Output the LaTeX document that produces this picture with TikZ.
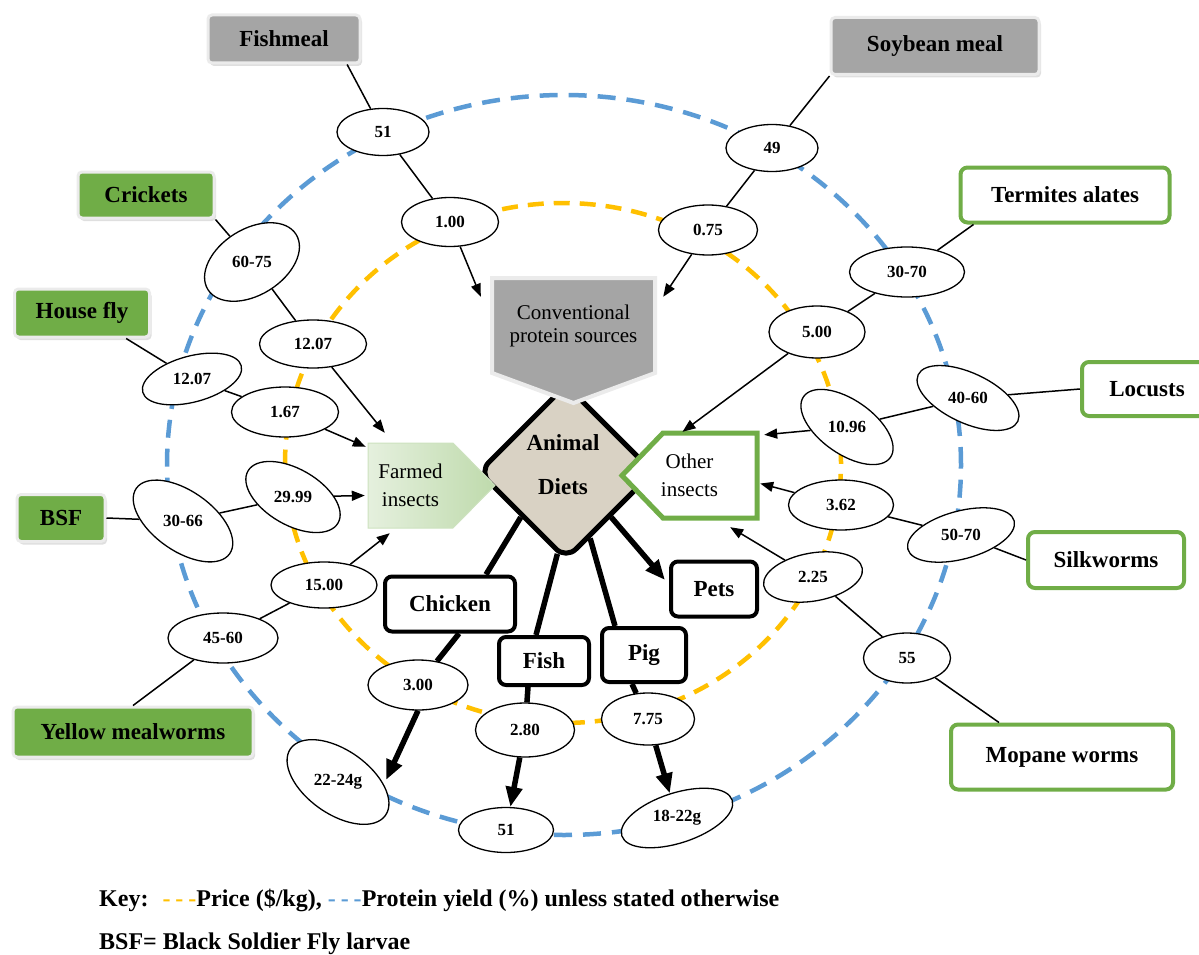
\documentclass[tikz,border=0pt]{standalone}
\usepackage{fontspec}
\setmainfont{Liberation Serif}
\usepackage{graphicx}
\usetikzlibrary{shapes.geometric,arrows.meta,shadows}

\definecolor{yieldblue}{RGB}{91,155,213}
\definecolor{priceorange}{RGB}{255,192,0}
\definecolor{insectgreen}{RGB}{112,173,71}
\definecolor{feedgray}{RGB}{165,165,165}
\definecolor{dietbeige}{RGB}{217,210,196}

\begin{document}
\begin{tikzpicture}[x=1pt,y=-1pt,
	lbl/.style={font=\fontsize{23}{25}\selectfont\bfseries},
	inner/.style={font=\fontsize{21}{23}\selectfont, align=center, inner sep=0pt},
	keytxt/.style={font=\fontsize{24}{26}\selectfont\bfseries, anchor=west, inner sep=0pt},
	feedbox/.style={lbl, rectangle, rounded corners=4pt, fill=feedgray, draw=black!8, line width=3pt, drop shadow={opacity=0.25, shadow xshift=2pt, shadow yshift=-3pt}},
	farmbox/.style={lbl, rectangle, rounded corners=4pt, fill=insectgreen, draw=black!8, line width=3pt, drop shadow={opacity=0.25, shadow xshift=2pt, shadow yshift=-3pt}},
	wildbox/.style={lbl, rectangle, rounded corners=7pt, fill=white, draw=insectgreen, line width=4pt},
	dietbox/.style={lbl, rectangle, rounded corners=7pt, fill=white, draw=black, line width=4pt},
	ovl/.style={ellipse, draw, fill=white, line width=1.3pt, inner sep=0pt, font=\fontsize{17}{17}\selectfont\bfseries},
	link/.style={line width=1.5pt},
	feed/.style={link, -{Triangle[length=13pt,width=10pt]}},
	dietline/.style={line width=5.5pt},
	dietarrow/.style={dietline, -{Triangle[length=20pt,width=16pt]}}]
	\useasboundingbox (0,0) rectangle (1199,955);
	\clip (0,0) rectangle (1199,955);

	% protein yield and price rings
	\draw[yieldblue, line width=4.5pt, dash pattern=on 18pt off 11pt] (564,465) ellipse [x radius=397pt, y radius=370pt];
	\draw[priceorange, line width=4.5pt, dash pattern=on 16pt off 10pt] (563,463) ellipse [x radius=278pt, y radius=260pt];

	% centre
	\node[diamond, draw, line width=5pt, rounded corners=14pt, fill=dietbeige, minimum width=176pt, minimum height=176pt, inner sep=0pt] (diets) at (566,472) {};
	\filldraw[draw=black!8, line width=4pt, fill=feedgray] (492,278) -- (655,278) -- (655,373) -- (573.5,403) -- (492,373) -- cycle;
	\shadedraw[draw=insectgreen!35, line width=1pt, left color=insectgreen!18, right color=insectgreen!45] (368,443) -- (453,443) -- (495,485.5) -- (453,528) -- (368,528) -- cycle;
	\filldraw[draw=insectgreen, line width=5pt, fill=white] (622,475.5) -- (663,433) -- (757,433) -- (757,518) -- (663,518) -- cycle;
	\node[lbl, align=center, inner sep=0pt] (dietstext) at (563,465) {Animal\\[19pt]Diets};
	\node[inner, minimum width=163pt, minimum height=95pt] (conv) at (573.5,325.5) {Conventional\\protein sources};
	\node[inner, minimum width=85pt, minimum height=85pt] (farmed) at (410.5,485.5) {Farmed\\[5pt]insects};
	\node[inner, minimum width=135pt, minimum height=85pt] (other) at (689.5,475.5) {Other\\[5pt]insects};

	% sources
	\node[feedbox, minimum width=152pt, minimum height=48pt] (fishmeal) at (284,39) {Fishmeal};
	\node[feedbox, minimum width=208pt, minimum height=57pt] (soybean) at (935,46) {Soybean meal};
	\node[farmbox, minimum width=136pt, minimum height=46pt] (crickets) at (146,195) {Crickets};
	\node[farmbox, minimum width=135pt, minimum height=48pt] (housefly) at (82,313) {House fly};
	\node[farmbox, minimum width=88pt, minimum height=47pt] (bsf) at (61,518) {BSF};
	\node[farmbox, minimum width=240pt, minimum height=50pt] (mealworms) at (133,732) {Yellow mealworms};
	\node[wildbox, minimum width=209pt, minimum height=55pt] (termites) at (1065,195) {Termites alates};
	\node[wildbox, minimum width=130pt, minimum height=54pt] (locusts) at (1147,389) {Locusts};
	\node[wildbox, minimum width=156pt, minimum height=56pt] (silkworms) at (1106,560) {Silkworms};
	\node[wildbox, minimum width=222pt, minimum height=65pt] (mopane) at (1062,757) {Mopane worms};

	% animals
	\node[dietbox, minimum width=130pt, minimum height=55pt] (chicken) at (450,604) {Chicken};
	\node[dietbox, minimum width=90pt, minimum height=48pt] (fish) at (544,661) {Fish};
	\node[dietbox, minimum width=84pt, minimum height=54pt] (pig) at (644,655) {Pig};
	\node[dietbox, minimum width=86pt, minimum height=55pt] (pets) at (714,589) {Pets};

	% values
	\node[ovl, minimum width=92pt, minimum height=47pt] (fm51) at (383,132) {51};
	\node[ovl, minimum width=97pt, minimum height=49pt] (fm100) at (450,222) {1.00};
	\node[ovl, minimum width=92pt, minimum height=47pt] (sb49) at (772,148) {49};
	\node[ovl, minimum width=99pt, minimum height=50pt] (sb075) at (708,230) {0.75};
	\node[ovl, rotate=32, minimum width=104pt, minimum height=66pt] (cr6075) at (252,262) {\rotatebox{-32}{60-75}};
	\node[ovl, minimum width=107pt, minimum height=48pt] (cr1207) at (313,344) {12.07};
	\node[ovl, rotate=15, minimum width=102pt, minimum height=46pt] (hf1207) at (192,379) {\rotatebox{-15}{12.07}};
	\node[ovl, minimum width=107pt, minimum height=50pt] (hf167) at (285,412) {1.67};
	\node[ovl, rotate=-35, minimum width=114pt, minimum height=60pt] (bsf3066) at (183,521) {\rotatebox{35}{30-66}};
	\node[ovl, rotate=-30, minimum width=104pt, minimum height=56pt] (bsf2999) at (293,497) {\rotatebox{30}{29.99}};
	\node[ovl, minimum width=106pt, minimum height=46pt] (ym1500) at (324,585) {15.00};
	\node[ovl, minimum width=110pt, minimum height=50pt] (ym4560) at (223,638) {45-60};
	\node[ovl, minimum width=115pt, minimum height=50pt] (ta3070) at (907,272) {30-70};
	\node[ovl, minimum width=96pt, minimum height=52pt] (ta500) at (817,332) {5.00};
	\node[ovl, rotate=-25, minimum width=110pt, minimum height=50pt] (lo4060) at (968,398) {\rotatebox{25}{40-60}};
	\node[ovl, rotate=-35, minimum width=106pt, minimum height=54pt] (lo1096) at (847,427) {\rotatebox{35}{10.96}};
	\node[ovl, minimum width=105pt, minimum height=50pt] (sw362) at (841,505) {3.62};
	\node[ovl, rotate=15, minimum width=110pt, minimum height=48pt] (sw5070) at (961,535) {\rotatebox{-15}{50-70}};
	\node[ovl, rotate=10, minimum width=100pt, minimum height=48pt] (mw225) at (813,577) {\rotatebox{-10}{2.25}};
	\node[ovl, minimum width=87pt, minimum height=50pt] (mw55) at (907,658) {55};
	\node[ovl, minimum width=100pt, minimum height=50pt] (ch300) at (418,685) {3.00};
	\node[ovl, rotate=-35, minimum width=116pt, minimum height=64pt] (ch2224) at (338,782) {\rotatebox{35}{22-24g}};
	\node[ovl, minimum width=99pt, minimum height=54pt] (fi280) at (525,730) {2.80};
	\node[ovl, minimum width=95pt, minimum height=45pt] (fi51) at (506,830) {51};
	\node[ovl, minimum width=93pt, minimum height=52pt] (pg775) at (648,719) {7.75};
	\node[ovl, rotate=18, minimum width=116pt, minimum height=50pt] (pg1822) at (677,818) {\rotatebox{-18}{18-22g}};

	% conventional sources
	\draw[link] (fishmeal.-22) -- (fm51);
	\draw[link] (fm51) -- (fm100);
	\draw[feed] (fm100) -- ([shift={(-11,19)}]conv.north west);
	\draw[link] (soybean.south west) -- (sb49);
	\draw[link] (sb49) -- (sb075);
	\draw[feed] (sb075) -- ([shift={(8,19)}]conv.north east);

	% farmed insects
	\draw[link] (crickets.south east) -- (cr6075);
	\draw[link] (cr6075) -- (cr1207);
	\draw[feed] (cr1207) -- ([shift={(17,-10)}]farmed.north west);
	\draw[link] (housefly.-30) -- (hf1207);
	\draw[link] (hf1207) -- (hf167);
	\draw[feed] (hf167) -- ([shift={(-2,4)}]farmed.north west);
	\draw[link] (bsf.east) -- (bsf3066);
	\draw[link] (bsf3066) -- (bsf2999);
	\draw[feed] (bsf2999) -- ([shift={(-3,10)}]farmed.west);
	\draw[link] (mealworms.north) -- (ym4560);
	\draw[link] (ym4560) -- (ym1500);
	\draw[feed] (ym1500) -- ([shift={(22,5)}]farmed.south west);

	% other insects
	\draw[link] ([xshift=15pt]termites.south west) -- (ta3070);
	\draw[link] (ta3070) -- (ta500);
	\draw[feed] (ta500) -- ([shift={(-7,-1)}]other.north);
	\draw[link] (locusts.west) -- (lo4060);
	\draw[link] (lo4060) -- (lo1096);
	\draw[feed] (lo1096) -- ([shift={(7,2)}]other.north east);
	\draw[link] (silkworms.west) -- (sw5070);
	\draw[link] (sw5070) -- (sw362);
	\draw[feed] (sw362) -- ([shift={(3,8)}]other.east);
	\draw[link] ([xshift=50pt]mopane.north west) -- (mw55);
	\draw[link] (mw55) -- (mw225);
	\draw[feed] (mw225) -- ([shift={(-27,9)}]other.south east);

	% animal diets
	\draw[dietline] (diets.south west) -- ([xshift=36pt]chicken.north);
	\draw[dietline] ([xshift=9pt]chicken.south) -- (ch300);
	\draw[dietarrow] (ch300.south) -- ([shift={(48,-2)}]ch2224.center);
	\draw[dietline] (diets.-96) -- ([xshift=-8pt]fish.north);
	\draw[dietline] ([xshift=-16pt]fish.south) -- (fi280);
	\draw[dietarrow] (fi280) -- (fi51);
	\draw[dietline] (diets.-70) -- ([xshift=-29pt]pig.north);
	\draw[dietline] ([xshift=-12pt]pig.south) -- (pg775);
	\draw[dietarrow] (pg775) -- (pg1822);
	\draw[dietarrow] (diets.south east) -- ([shift={(-4,-9)}]pets.west);

	% key
	\node[keytxt] (key) at (99,900) {Key:\hspace{14pt}\textcolor{priceorange}{-\kern5pt-\kern5pt-}Price (\$/kg), \textcolor{yieldblue}{-\kern5pt-\kern5pt-}Protein yield (\%) unless stated otherwise};
	\node[keytxt] (bsfkey) at (99,944) {BSF= Black Soldier Fly larvae};
\end{tikzpicture}
\end{document}
